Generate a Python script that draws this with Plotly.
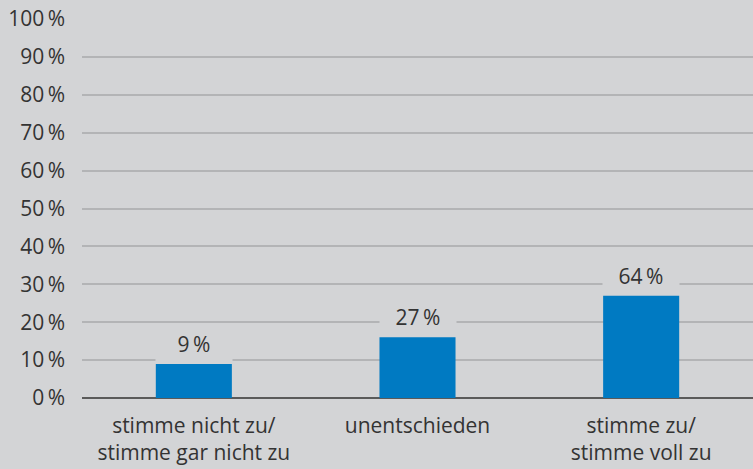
import plotly.graph_objects as go

categories = ["stimme nicht zu/<br>stimme gar nicht zu", "unentschieden", "stimme zu/<br>stimme voll zu"]
bar_values = [9, 16, 27]
value_labels = ["9\u2009%", "27\u2009%", "64\u2009%"]
y_ticks = list(range(0, 101, 10))
y_tick_labels = [f"{v}\u2009%" for v in y_ticks]

BG = "#d3d4d6"
FONT = "Open Sans"
TXT = "#333333"
FS = 21

fig = go.Figure()
fig.add_trace(go.Bar(x=categories, y=bar_values, marker_color="#007ac2",
                     marker_line_width=0, hoverinfo="skip"))

for c, v, lab in zip(categories, bar_values, value_labels):
    fig.add_annotation(x=c, y=v, xref="x", yref="y", text=lab, showarrow=False,
                       yanchor="bottom", yshift=2, width=76, height=34,
                       bgcolor=BG, borderpad=0,
                       font=dict(family=FONT, size=FS, color=TXT))

fig.update_layout(
    width=753, height=469,
    paper_bgcolor=BG, plot_bgcolor=BG,
    margin=dict(l=82, r=0, t=19, b=71),
    bargap=0.66,
    showlegend=False,
    font=dict(family=FONT, size=FS, color=TXT),
)
fig.update_xaxes(showgrid=False, showline=False, ticks="", automargin=False,
                 ticklabelstandoff=13, tickfont=dict(size=FS, color=TXT))
fig.update_yaxes(range=[0, 100], tickvals=y_ticks, ticktext=y_tick_labels,
                 showgrid=True, gridcolor="#b3b4b6", gridwidth=1.5,
                 zeroline=True, zerolinecolor="#5a5a5a", zerolinewidth=2,
                 automargin=False,
                 ticks="", ticklabelstandoff=16, tickfont=dict(size=FS, color=TXT))

fig.write_html("out.html", config={"displayModeBar": False},
               post_script="document.body.style.margin='0';document.body.style.background='#d3d4d6';")
